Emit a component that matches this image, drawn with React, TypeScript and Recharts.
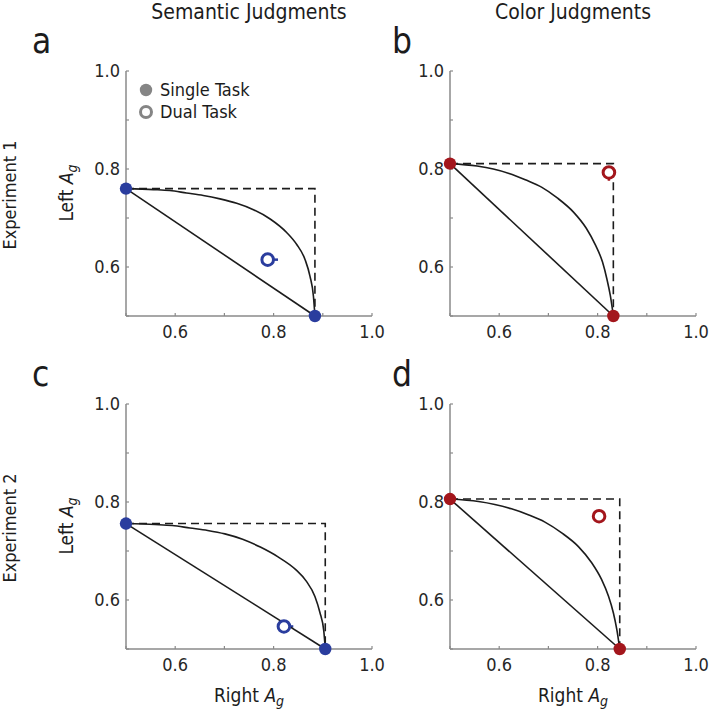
import { ScatterChart, Scatter, XAxis, YAxis, ErrorBar } from "recharts";

const FONT = "'Liberation Sans Narrow', 'DejaVu Sans Condensed', Roboto, sans-serif";
const BLUE = "#2a3d9e";
const RED = "#a3161c";
const AXIS = "#8a8a8a";
const INK = "#1c1c1c";

const TICKS = [0.5, 0.6, 0.7, 0.8, 0.9, 1.0];
const LABELED = [0.6, 0.8, 1.0];

// a: Experiment 1, semantic judgments
const semantic1Single = [
  { x: 0.5, y: 0.76, ex: [0, 0], ey: [0, 0] },
  { x: 0.884, y: 0.5, ex: [0, 0.006], ey: [0, 0] },
];
const semantic1Dual = [{ x: 0.788, y: 0.615, ex: [0.01, 0.021], ey: [0, 0] }];
const semantic1Curve = [
  { x: 0.556, y: 0.758 }, { x: 0.589, y: 0.756 }, { x: 0.623, y: 0.751 },
  { x: 0.657, y: 0.746 }, { x: 0.691, y: 0.739 }, { x: 0.725, y: 0.73 },
  { x: 0.759, y: 0.717 }, { x: 0.793, y: 0.698 }, { x: 0.827, y: 0.67 },
  { x: 0.847, y: 0.646 }, { x: 0.864, y: 0.615 }, { x: 0.874, y: 0.581 },
  { x: 0.881, y: 0.54 },
];

// b: Experiment 1, color judgments
const color1Single = [
  { x: 0.5, y: 0.811, ex: [0, 0], ey: [0, 0] },
  { x: 0.832, y: 0.5, ex: [0, 0], ey: [0, 0] },
];
const color1Dual = [{ x: 0.823, y: 0.793, ex: [0, 0], ey: [0.017, 0.005] }];
const color1Curve = [
  { x: 0.555, y: 0.806 }, { x: 0.588, y: 0.8 }, { x: 0.62, y: 0.791 },
  { x: 0.653, y: 0.778 }, { x: 0.686, y: 0.763 }, { x: 0.718, y: 0.741 },
  { x: 0.751, y: 0.712 }, { x: 0.777, y: 0.679 }, { x: 0.796, y: 0.644 },
  { x: 0.81, y: 0.61 }, { x: 0.819, y: 0.575 }, { x: 0.826, y: 0.541 },
];

// c: Experiment 2, semantic judgments
const semantic2Single = [
  { x: 0.5, y: 0.756, ex: [0, 0], ey: [0.012, 0] },
  { x: 0.905, y: 0.5, ex: [0, 0], ey: [0, 0] },
];
const semantic2Dual = [{ x: 0.821, y: 0.546, ex: [0.008, 0.019], ey: [0, 0] }];
const semantic2Curve = [
  { x: 0.559, y: 0.754 }, { x: 0.594, y: 0.752 }, { x: 0.63, y: 0.747 },
  { x: 0.666, y: 0.742 }, { x: 0.701, y: 0.735 }, { x: 0.737, y: 0.724 },
  { x: 0.773, y: 0.708 }, { x: 0.809, y: 0.688 }, { x: 0.845, y: 0.662 },
  { x: 0.866, y: 0.639 }, { x: 0.884, y: 0.607 }, { x: 0.894, y: 0.575 },
  { x: 0.902, y: 0.537 },
];

// d: Experiment 2, color judgments
const color2Single = [
  { x: 0.5, y: 0.806, ex: [0, 0], ey: [0.012, 0] },
  { x: 0.845, y: 0.5, ex: [0, 0.012], ey: [0, 0] },
];
const color2Dual = [{ x: 0.803, y: 0.771, ex: [0, 0], ey: [0, 0] }];
const color2Curve = [
  { x: 0.558, y: 0.801 }, { x: 0.591, y: 0.795 }, { x: 0.625, y: 0.786 },
  { x: 0.659, y: 0.774 }, { x: 0.693, y: 0.759 }, { x: 0.727, y: 0.737 },
  { x: 0.761, y: 0.709 }, { x: 0.788, y: 0.676 }, { x: 0.808, y: 0.642 },
  { x: 0.822, y: 0.608 }, { x: 0.832, y: 0.574 }, { x: 0.839, y: 0.54 },
];

const PANELS = [
  { key: "a", left: 76, top: 61, color: BLUE, single: semantic1Single, dual: semantic1Dual, curve: semantic1Curve },
  { key: "b", left: 400, top: 61, color: RED, single: color1Single, dual: color1Dual, curve: color1Curve },
  { key: "c", left: 76, top: 394, color: BLUE, single: semantic2Single, dual: semantic2Dual, curve: semantic2Curve },
  { key: "d", left: 400, top: 394, color: RED, single: color2Single, dual: color2Dual, curve: color2Curve },
];

const noDot = () => <g />;
const fmt = (v: number) => (LABELED.some((t) => Math.abs(t - v) < 1e-6) ? v.toFixed(1) : "");
const tickStyle = { fontSize: 18, fontFamily: FONT, fill: "#262626" };

function Panel({ p }: { p: (typeof PANELS)[number] }) {
  const [l, r] = p.single;
  const bound = [{ x: l.x, y: l.y }, { x: r.x, y: l.y }, { x: r.x, y: r.y }];
  const chord = [{ x: l.x, y: l.y }, { x: r.x, y: r.y }];
  const curve = [{ x: l.x, y: l.y }, ...p.curve, { x: r.x, y: r.y }];
  const filled = (s: any) => <circle cx={s.cx} cy={s.cy} r={6.2} fill={p.color} />;
  const open = (s: any) => (
    <circle cx={s.cx} cy={s.cy} r={5.8} fill="#fff" stroke={p.color} strokeWidth={3} />
  );
  return (
    <div style={{ position: "absolute", left: p.left, top: p.top }}>
      <ScatterChart width={316} height={290} margin={{ top: 10, right: 20, bottom: 5, left: 0 }}>
        <XAxis type="number" dataKey="x" domain={[0.5, 1]} ticks={TICKS} interval={0}
          height={30} tickFormatter={fmt} tick={tickStyle}
          axisLine={{ stroke: AXIS, strokeWidth: 1.5 }} tickLine={{ stroke: AXIS, strokeWidth: 1.2 }}
          tickSize={-3} tickMargin={12.5} />
        <YAxis type="number" dataKey="y" domain={[0.5, 1]} ticks={TICKS} interval={0}
          width={50} tickFormatter={fmt} tick={tickStyle}
          axisLine={{ stroke: AXIS, strokeWidth: 1.5 }} tickLine={{ stroke: AXIS, strokeWidth: 1.2 }}
          tickSize={-3} tickMargin={9} />
        <Scatter data={bound} fill="none" shape={noDot} isAnimationActive={false}
          line={{ stroke: INK, strokeWidth: 1.6, strokeDasharray: "8 5" }} />
        <Scatter data={curve} fill="none" shape={noDot} isAnimationActive={false}
          lineJointType="monotoneX" line={{ stroke: INK, strokeWidth: 1.6 }} />
        <Scatter data={chord} fill="none" shape={noDot} isAnimationActive={false}
          line={{ stroke: INK, strokeWidth: 1.6 }} />
        <Scatter data={p.single} fill={p.color} shape={filled} isAnimationActive={false}>
          <ErrorBar dataKey="ex" direction="x" width={0} stroke={p.color} strokeWidth={2.5} />
          <ErrorBar dataKey="ey" direction="y" width={0} stroke={p.color} strokeWidth={2.5} />
        </Scatter>
        <Scatter data={p.dual} fill={p.color} shape={open} isAnimationActive={false}>
          <ErrorBar dataKey="ex" direction="x" width={0} stroke={p.color} strokeWidth={2.5} />
          <ErrorBar dataKey="ey" direction="y" width={0} stroke={p.color} strokeWidth={2.5} />
        </Scatter>
      </ScatterChart>
    </div>
  );
}

function AgLabel({ x, y, rotate, text }: { x: number; y: number; rotate?: boolean; text: string }) {
  return (
    <text transform={`translate(${x},${y})${rotate ? " rotate(-90)" : ""}`} textAnchor="middle"
      fontSize={19} fontFamily={FONT} fill={INK}>
      {text} <tspan fontStyle="italic">A</tspan>
      <tspan fontStyle="italic" fontSize={14} dy={4}>g</tspan>
    </text>
  );
}

export default function App() {
  const txt = { fontFamily: FONT, fill: INK };
  return (
    <div style={{ position: "absolute", left: 0, top: 0, width: 712, height: 714, background: "#fff" }}>
      {PANELS.map((p) => (
        <Panel key={p.key} p={p} />
      ))}
      <svg width={712} height={714} style={{ position: "absolute", left: 0, top: 0, pointerEvents: "none" }}>
        <text x={249} y={19} textAnchor="middle" fontSize={21} {...txt}>Semantic Judgments</text>
        <text x={573} y={19} textAnchor="middle" fontSize={21} {...txt}>Color Judgments</text>
        {[["a", 32, 53], ["b", 392, 53], ["c", 32, 386], ["d", 392, 386]].map(([s, x, y]) => (
          <text key={s as string} x={x as number} y={y as number} fontSize={35} {...txt}>{s}</text>
        ))}
        <text transform="translate(16,195) rotate(-90)" textAnchor="middle" fontSize={18} {...txt}>Experiment 1</text>
        <text transform="translate(16,528) rotate(-90)" textAnchor="middle" fontSize={18} {...txt}>Experiment 2</text>
        <AgLabel x={73} y={193} rotate text="Left" />
        <AgLabel x={73} y={526} rotate text="Left" />
        <AgLabel x={249} y={702} text="Right" />
        <AgLabel x={573} y={702} text="Right" />
        <circle cx={146} cy={90} r={6.2} fill="#858585" />
        <text x={160} y={96} fontSize={18} {...txt}>Single Task</text>
        <circle cx={146} cy={112} r={5.5} fill="#fff" stroke="#858585" strokeWidth={3} />
        <text x={160} y={118} fontSize={18} {...txt}>Dual Task</text>
      </svg>
    </div>
  );
}
